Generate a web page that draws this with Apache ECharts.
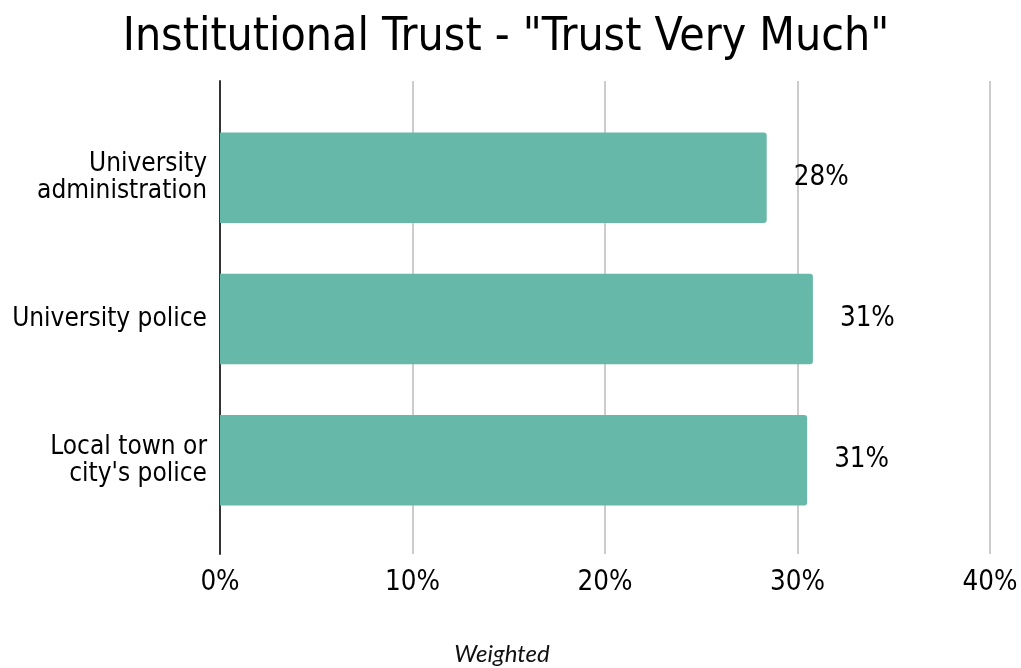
<!DOCTYPE html>
<html>
<head>
<meta charset="utf-8">
<script src="https://cdn.jsdelivr.net/npm/echarts@6/dist/echarts.min.js"></script>
<style>
html,body{margin:0;padding:0;background:#fff;}
#chart{width:1021px;height:668px;}
</style>
</head>
<body>
<div id="chart"></div>
<script>
const categories = ["University\nadministration", "University police", "Local town or\ncity's police"];
const values = [28.4, 30.8, 30.5];
const tickMin = 0;
const tickMax = 40;
const tickStep = 10;

const FONT = '"DejaVu Sans Condensed", "DejaVu Sans", sans-serif';
const chart = echarts.init(document.getElementById('chart'));
chart.setOption({
  animation: false,
  backgroundColor: '#ffffff',
  title: {
    text: 'Institutional Trust - "Trust Very Much"',
    left: 501,
    textAlign: 'center',
    top: 10,
    textStyle: { fontFamily: FONT, fontSize: 46, fontWeight: 'normal', color: '#000' }
  },
  graphic: [{
    type: 'text',
    x: 502,
    y: 642,
    style: { text: 'Weighted', font: 'italic 24px Lato, sans-serif', fill: '#111', textAlign: 'center' }
  }],
  grid: [
    { left: 220, right: 31, top: 81, height: 473 },
    { left: 220, right: 31, top: 107, height: 424 }
  ],
  xAxis: [
    {
      gridIndex: 0, type: 'value', min: tickMin, max: tickMax, interval: tickStep,
      axisLine: { show: false }, axisTick: { show: false },
      splitLine: { show: true, lineStyle: { color: '#cccccc', width: 2 } },
      axisLabel: { formatter: '{value}%', fontFamily: FONT, fontSize: 27.5, color: '#000', margin: 15 }
    },
    {
      gridIndex: 1, type: 'value', min: tickMin, max: tickMax, interval: tickStep, show: false
    }
  ],
  yAxis: [
    {
      gridIndex: 0, type: 'value', axisLabel: { show: false }, axisTick: { show: false },
      splitLine: { show: false },
      axisLine: { show: true, lineStyle: { color: '#333333', width: 2 } }
    },
    {
      gridIndex: 1, type: 'category', data: categories, inverse: true,
      axisLine: { show: false }, axisTick: { show: false },
      axisLabel: { fontFamily: FONT, fontSize: 26, color: '#000', margin: 13, lineHeight: 27, align: 'right' }
    }
  ],
  series: [{
    type: 'bar',
    xAxisIndex: 1, yAxisIndex: 1,
    data: values,
    barWidth: '64%',
    itemStyle: { color: '#66b8a8', borderRadius: [0, 3, 3, 0] },
    label: {
      show: true, position: 'right', distance: 27,
      formatter: p => Math.round(p.value) + '%',
      fontFamily: FONT, fontSize: 27.5, color: '#000'
    }
  }]
});
</script>
</body>
</html>
